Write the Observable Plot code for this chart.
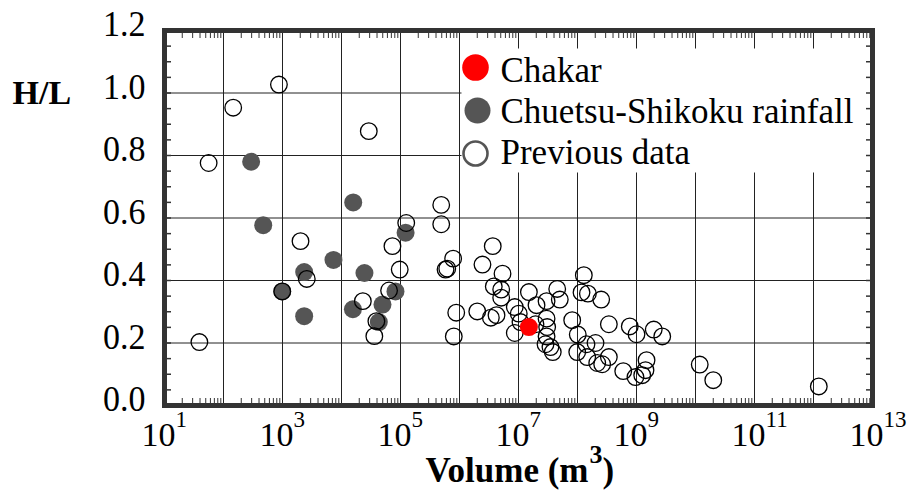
<!DOCTYPE html>
<html>
<head>
<meta charset="utf-8">
<script src="https://cdn.jsdelivr.net/npm/d3@7"></script>
<script src="https://cdn.jsdelivr.net/npm/@observablehq/plot@0.6"></script>
<style>
  html, body { margin: 0; padding: 0; background: white; }
  #chart svg { display: block; }
</style>
</head>
<body>
<div id="chart"></div>
<script>
// ---- data ----
const previousV = [870, 146, 29000, 56, 4.9e5, 1.25e5, 4.9e5, 2020, 73000, 7.8e5,
  6.2e5, 5.8e5, 2580, 9.7e4, 6.4e4, 2.3e4, 3.9e4, 3.6e4, 8.8e5, 8.0e5,
  39, 990, 3.66e6, 2.45e6, 5.36e6, 3.81e6, 5.09e6, 5.09e6, 1.5e7, 4.53e7,
  5.01e7, 2.99e7, 2.02e7, 1.28e8, 1.17e8, 1.5e8, 2.52e8, 2.0e6, 3.4e6, 4.24e6,
  8.65e6, 1.01e7, 1.08e7, 8.65e6, 1.94e7, 2.99e7, 3.06e7, 2.99e7, 2.87e7, 3.48e7,
  3.81e7, 8.13e7, 1.01e8, 1.42e8, 2.02e8, 9.9e7, 1.46e8, 2.16e8, 2.62e8, 3.4e8,
  3.4e8, 7.69e8, 1.0e9, 1.96e9, 2.73e9, 5.96e8, 9.6e8, 1.25e9, 1.48e9, 1.42e9,
  1.18e10, 2.0e10, 1.23e12];
const previousHL = [1.027, 0.953, 0.878, 0.776, 0.642, 0.584, 0.580, 0.526, 0.510, 0.470,
  0.438, 0.435, 0.405, 0.435, 0.368, 0.334, 0.270, 0.222, 0.297, 0.221,
  0.203, 0.365, 0.510, 0.451, 0.422, 0.381, 0.371, 0.345, 0.363, 0.373,
  0.339, 0.334, 0.321, 0.417, 0.362, 0.358, 0.339, 0.301, 0.281, 0.289,
  0.315, 0.294, 0.267, 0.232, 0.260, 0.278, 0.251, 0.221, 0.196, 0.187,
  0.171, 0.273, 0.227, 0.196, 0.200, 0.171, 0.155, 0.136, 0.132, 0.155,
  0.260, 0.253, 0.228, 0.243, 0.221, 0.110, 0.091, 0.097, 0.145, 0.113,
  0.131, 0.081, 0.061];

const chuetsuV = [294, 15800, 471, 1.22e5, 7310, 2330, 24500, 990, 82200, 49500, 15600, 2330, 42900];
const chuetsuHL = [0.780, 0.650, 0.577, 0.553, 0.466, 0.427, 0.424, 0.365, 0.365, 0.323, 0.308, 0.286, 0.267];

const chakarV = [1.5e7];
const chakarHL = [0.251];

const legendLabels = ["Chakar", "Chuetsu-Shikoku rainfall", "Previous data"];
const xTicks = [1e1, 1e3, 1e5, 1e7, 1e9, 1e11, 1e13];
const xGrid = [1e2, 1e3, 1e4, 1e5, 1e6, 1e7, 1e8, 1e9, 1e10, 1e11, 1e12];
const yTicks = [0, 0.2, 0.4, 0.6, 0.8, 1.0, 1.2];
const yGrid = [0.2, 0.4, 0.6, 0.8, 1.0];
const xLabel = "Volume (m";
const xLabelSup = "3";
const xLabelEnd = ")";
const yLabel = "H/L";

// ---- derived tables ----
const previous = previousV.map((v, i) => ({v, hl: previousHL[i]}));
const chuetsu = chuetsuV.map((v, i) => ({v, hl: chuetsuHL[i]}));
const chakar = chakarV.map((v, i) => ({v, hl: chakarHL[i]}));
const minorX = [];
for (let k = 1; k < 13; k++) for (let m = 2; m <= 9; m++) minorX.push(m * Math.pow(10, k));
const minorY = d3.range(0, 25).map(i => +(i * 0.05).toFixed(2));

const ink = "#333";
const serif = "Liberation Serif, Times New Roman, serif";

const chart = Plot.plot({
  width: 909,
  height: 494,
  marginLeft: 164,
  marginRight: 37,
  marginTop: 30,
  marginBottom: 89,
  style: {fontFamily: serif, background: "white", color: "black", overflow: "visible"},
  x: {type: "log", domain: [1e1, 1e13]},
  y: {domain: [0, 1.2]},
  marks: [
    Plot.gridX(xGrid, {stroke: "#222", strokeOpacity: 1, strokeWidth: 1}),
    Plot.gridY(yGrid, {stroke: "#222", strokeOpacity: 1, strokeWidth: 1}),
    // legend background box
    Plot.frame({fill: "white", stroke: null, insetLeft: 297, insetTop: 18, insetRight: 0, insetBottom: 233}),
    // minor ticks (inside)
    Plot.axisX(minorX, {anchor: "bottom", tickSize: -7, fill: "none", stroke: ink, strokeWidth: 1}),
    Plot.axisX(minorX, {anchor: "top", tickSize: -7, fill: "none", stroke: ink, strokeWidth: 1}),
    Plot.axisY(minorY, {anchor: "left", tickSize: -7, fill: "none", stroke: ink, strokeWidth: 1.5}),
    Plot.axisY(minorY, {anchor: "right", tickSize: -7, fill: "none", stroke: ink, strokeWidth: 1.5}),
    // y tick labels
    Plot.axisY(yTicks, {anchor: "left", tickSize: 0, tickPadding: 19, fontSize: 34, dy: -5,
      tickFormat: d3.format(".1f"), label: null, fill: "black"}),
    // x tick labels 10^k
    Plot.text(xTicks, {x: d => d, text: () => "10", frameAnchor: "bottom", lineAnchor: "bottom",
      dx: -6, dy: 40, fontSize: 34, fill: "black"}),
    Plot.text(xTicks, {x: d => d, text: d => String(Math.round(Math.log10(d))), frameAnchor: "bottom",
      lineAnchor: "bottom", textAnchor: "start", dx: 11, dy: 21, fontSize: 23, fill: "black"}),
    Plot.frame({stroke: ink, strokeWidth: 5}),
    // data
    Plot.dot(chuetsu, {x: "v", y: "hl", r: 9, fill: "#555", stroke: null}),
    Plot.dot(previous, {x: "v", y: "hl", r: 8.3, fill: "none", stroke: "black", strokeWidth: 1.3}),
    Plot.dot(chakar, {x: "v", y: "hl", r: 9, fill: "#ff0000", stroke: null}),
    // legend
    Plot.dot([legendLabels[0]], {frameAnchor: "top-left", dx: 311, dy: 37, r: 13.3, fill: "#ff0000"}),
    Plot.dot([legendLabels[1]], {frameAnchor: "top-left", dx: 313, dy: 80, r: 13, fill: "#555"}),
    Plot.dot([legendLabels[2]], {frameAnchor: "top-left", dx: 311, dy: 123, r: 12, fill: "white", stroke: "#555", strokeWidth: 2.6}),
    Plot.text([legendLabels[0]], {text: d => d, ariaLabel: "legend-text", frameAnchor: "top-left", textAnchor: "start", lineAnchor: "bottom", dx: 336, dy: 51, fontSize: 35, fill: "black"}),
    Plot.text([legendLabels[1]], {text: d => d, ariaLabel: "legend-text", frameAnchor: "top-left", textAnchor: "start", lineAnchor: "bottom", dx: 336, dy: 92, fontSize: 35, fill: "black"}),
    Plot.text([legendLabels[2]], {text: d => d, ariaLabel: "legend-text", frameAnchor: "top-left", textAnchor: "start", lineAnchor: "bottom", dx: 336, dy: 133, fontSize: 35, fill: "black"}),
    // axis titles
    Plot.text([yLabel], {text: d => d, ariaLabel: "y-title", frameAnchor: "top-left", textAnchor: "start", lineAnchor: "bottom", dx: -152, dy: 73, fontSize: 34, fontWeight: "bold", fill: "black"}),
    Plot.text([xLabel], {text: d => d, ariaLabel: "x-title", frameAnchor: "bottom", textAnchor: "end", lineAnchor: "bottom", dx: 70, dy: 76, fontSize: 35, fontWeight: "bold", fill: "black"}),
    Plot.text([xLabelSup], {text: d => d, ariaLabel: "x-title-sup", frameAnchor: "bottom", textAnchor: "start", lineAnchor: "bottom", dx: 71, dy: 57, fontSize: 26, fontWeight: "bold", fill: "black"}),
    Plot.text([xLabelEnd], {text: d => d, ariaLabel: "x-title", frameAnchor: "bottom", textAnchor: "start", lineAnchor: "bottom", dx: 84, dy: 76, fontSize: 35, fontWeight: "bold", fill: "black"})
  ]
});
document.getElementById("chart").appendChild(chart);

// the reference's lettering is slightly taller than wide: stretch text vertically about its baseline
function stretch(selector, s) {
  d3.select(chart).selectAll(selector).each(function () {
    const bb = this.getBBox();
    if (!bb || !bb.height) return;
    const yb = bb.y + bb.height * 0.8;
    const tr = this.getAttribute("transform") || "";
    this.setAttribute("transform", `${tr} translate(0,${yb}) scale(1,${s}) translate(0,${-yb})`);
  });
}
stretch('g[aria-label="legend-text"] text', 1.1);
stretch('g[aria-label="y-title"] text', 1.1);
stretch('g[aria-label="x-title"] text', 1.2);
stretch('g[aria-label="x-title-sup"] text', 1.1);
stretch('g[aria-label="y-axis tick label"] text', 1.07);
</script>
</body>
</html>
